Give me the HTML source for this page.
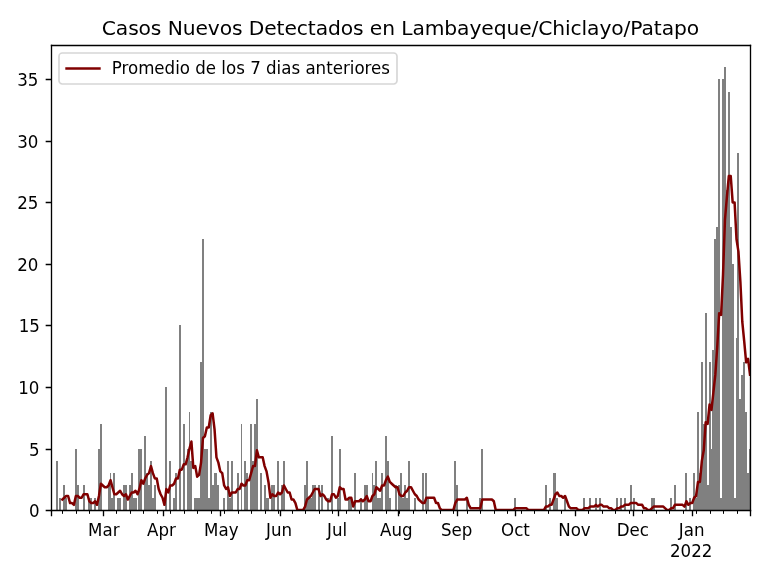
<!DOCTYPE html>
<html lang="es">
<head>
<meta charset="utf-8">
<title>Casos Nuevos Detectados en Lambayeque/Chiclayo/Patapo</title>
<style>
html,body{margin:0;padding:0;background:#ffffff;}
body{width:768px;height:576px;overflow:hidden;}
svg{display:block;}
svg text{white-space:pre;}
</style>
</head>
<body>
<svg width="768" height="576" viewBox="0 0 768 576">
<rect x="0" y="0" width="768" height="576" fill="#ffffff"/>
<defs><clipPath id="ax"><rect x="50.81" y="44.84" width="699.19" height="465.24"/></clipPath></defs>
<g fill="#808080" shape-rendering="crispEdges">
<rect x="51" y="498" width="1" height="12"/>
<rect x="56" y="461" width="2" height="49"/>
<rect x="59" y="498" width="2" height="12"/>
<rect x="63" y="485" width="2" height="25"/>
<rect x="65" y="498" width="2" height="12"/>
<rect x="75" y="449" width="2" height="61"/>
<rect x="77" y="485" width="2" height="25"/>
<rect x="83" y="485" width="2" height="25"/>
<rect x="88" y="498" width="4" height="12"/>
<rect x="94" y="498" width="2" height="12"/>
<rect x="98" y="449" width="2" height="61"/>
<rect x="100" y="424" width="2" height="86"/>
<rect x="108" y="485" width="2" height="25"/>
<rect x="110" y="473" width="1" height="37"/>
<rect x="111" y="498" width="2" height="12"/>
<rect x="113" y="473" width="2" height="37"/>
<rect x="117" y="498" width="4" height="12"/>
<rect x="123" y="485" width="4" height="25"/>
<rect x="129" y="485" width="2" height="25"/>
<rect x="131" y="473" width="2" height="37"/>
<rect x="133" y="498" width="4" height="12"/>
<rect x="138" y="449" width="4" height="61"/>
<rect x="144" y="436" width="2" height="74"/>
<rect x="146" y="473" width="2" height="37"/>
<rect x="148" y="485" width="2" height="25"/>
<rect x="150" y="461" width="2" height="49"/>
<rect x="152" y="498" width="2" height="12"/>
<rect x="154" y="485" width="2" height="25"/>
<rect x="165" y="387" width="2" height="123"/>
<rect x="169" y="461" width="2" height="49"/>
<rect x="173" y="498" width="2" height="12"/>
<rect x="175" y="473" width="2" height="37"/>
<rect x="179" y="325" width="2" height="185"/>
<rect x="183" y="424" width="2" height="86"/>
<rect x="187" y="449" width="2" height="61"/>
<rect x="189" y="412" width="1" height="98"/>
<rect x="190" y="461" width="2" height="49"/>
<rect x="194" y="498" width="6" height="12"/>
<rect x="200" y="362" width="2" height="148"/>
<rect x="202" y="239" width="2" height="271"/>
<rect x="204" y="449" width="4" height="61"/>
<rect x="208" y="498" width="2" height="12"/>
<rect x="210" y="412" width="2" height="98"/>
<rect x="212" y="485" width="2" height="25"/>
<rect x="214" y="473" width="3" height="37"/>
<rect x="217" y="485" width="2" height="25"/>
<rect x="223" y="498" width="2" height="12"/>
<rect x="227" y="461" width="2" height="49"/>
<rect x="229" y="498" width="2" height="12"/>
<rect x="231" y="461" width="2" height="49"/>
<rect x="237" y="473" width="2" height="37"/>
<rect x="241" y="424" width="1" height="86"/>
<rect x="244" y="461" width="2" height="49"/>
<rect x="246" y="473" width="2" height="37"/>
<rect x="250" y="424" width="2" height="86"/>
<rect x="252" y="461" width="2" height="49"/>
<rect x="254" y="424" width="2" height="86"/>
<rect x="256" y="399" width="2" height="111"/>
<rect x="260" y="473" width="2" height="37"/>
<rect x="264" y="485" width="2" height="25"/>
<rect x="266" y="498" width="3" height="12"/>
<rect x="271" y="485" width="4" height="25"/>
<rect x="277" y="461" width="2" height="49"/>
<rect x="281" y="485" width="2" height="25"/>
<rect x="283" y="461" width="2" height="49"/>
<rect x="304" y="485" width="2" height="25"/>
<rect x="306" y="461" width="2" height="49"/>
<rect x="308" y="498" width="4" height="12"/>
<rect x="312" y="485" width="4" height="25"/>
<rect x="318" y="485" width="2" height="25"/>
<rect x="321" y="485" width="2" height="25"/>
<rect x="327" y="498" width="2" height="12"/>
<rect x="331" y="436" width="2" height="74"/>
<rect x="337" y="498" width="2" height="12"/>
<rect x="339" y="449" width="2" height="61"/>
<rect x="348" y="498" width="4" height="12"/>
<rect x="354" y="473" width="2" height="37"/>
<rect x="360" y="498" width="2" height="12"/>
<rect x="364" y="485" width="4" height="25"/>
<rect x="372" y="473" width="1" height="37"/>
<rect x="373" y="485" width="2" height="25"/>
<rect x="375" y="461" width="2" height="49"/>
<rect x="377" y="498" width="4" height="12"/>
<rect x="381" y="473" width="2" height="37"/>
<rect x="385" y="436" width="2" height="74"/>
<rect x="387" y="461" width="2" height="49"/>
<rect x="389" y="498" width="2" height="12"/>
<rect x="395" y="485" width="2" height="25"/>
<rect x="398" y="485" width="2" height="25"/>
<rect x="400" y="473" width="2" height="37"/>
<rect x="402" y="498" width="2" height="12"/>
<rect x="404" y="485" width="2" height="25"/>
<rect x="406" y="498" width="2" height="12"/>
<rect x="408" y="461" width="2" height="49"/>
<rect x="414" y="498" width="2" height="12"/>
<rect x="422" y="473" width="2" height="37"/>
<rect x="425" y="473" width="2" height="37"/>
<rect x="427" y="498" width="2" height="12"/>
<rect x="454" y="461" width="2" height="49"/>
<rect x="456" y="485" width="2" height="25"/>
<rect x="466" y="498" width="2" height="12"/>
<rect x="479" y="498" width="2" height="12"/>
<rect x="481" y="449" width="2" height="61"/>
<rect x="514" y="498" width="2" height="12"/>
<rect x="545" y="485" width="2" height="25"/>
<rect x="549" y="498" width="2" height="12"/>
<rect x="553" y="473" width="3" height="37"/>
<rect x="556" y="498" width="2" height="12"/>
<rect x="564" y="498" width="2" height="12"/>
<rect x="583" y="498" width="2" height="12"/>
<rect x="589" y="498" width="2" height="12"/>
<rect x="595" y="498" width="2" height="12"/>
<rect x="599" y="498" width="2" height="12"/>
<rect x="616" y="498" width="2" height="12"/>
<rect x="620" y="498" width="2" height="12"/>
<rect x="624" y="498" width="2" height="12"/>
<rect x="630" y="485" width="2" height="25"/>
<rect x="633" y="498" width="2" height="12"/>
<rect x="651" y="498" width="4" height="12"/>
<rect x="670" y="498" width="2" height="12"/>
<rect x="674" y="485" width="2" height="25"/>
<rect x="685" y="473" width="2" height="37"/>
<rect x="689" y="498" width="2" height="12"/>
<rect x="693" y="473" width="2" height="37"/>
<rect x="695" y="498" width="2" height="12"/>
<rect x="697" y="412" width="2" height="98"/>
<rect x="699" y="473" width="2" height="37"/>
<rect x="701" y="362" width="2" height="148"/>
<rect x="703" y="424" width="2" height="86"/>
<rect x="705" y="313" width="2" height="197"/>
<rect x="707" y="485" width="2" height="25"/>
<rect x="709" y="362" width="2" height="148"/>
<rect x="711" y="449" width="1" height="61"/>
<rect x="712" y="350" width="2" height="160"/>
<rect x="714" y="239" width="2" height="271"/>
<rect x="716" y="227" width="2" height="283"/>
<rect x="718" y="79" width="2" height="431"/>
<rect x="720" y="498" width="2" height="12"/>
<rect x="722" y="79" width="2" height="431"/>
<rect x="724" y="67" width="2" height="443"/>
<rect x="726" y="190" width="2" height="320"/>
<rect x="728" y="92" width="2" height="418"/>
<rect x="730" y="227" width="2" height="283"/>
<rect x="732" y="264" width="2" height="246"/>
<rect x="734" y="498" width="2" height="12"/>
<rect x="736" y="338" width="1" height="172"/>
<rect x="737" y="153" width="2" height="357"/>
<rect x="739" y="399" width="2" height="111"/>
<rect x="741" y="375" width="2" height="135"/>
<rect x="743" y="362" width="2" height="148"/>
<rect x="745" y="412" width="2" height="98"/>
<rect x="747" y="473" width="2" height="37"/>
<rect x="749" y="449" width="1" height="61"/>
</g>
<g clip-path="url(#ax)"><polyline points="62.36,499.53 64.29,497.77 66.22,496.01 68.14,496.01 70.07,503.05 71.99,503.05 73.92,504.81 75.85,496.01 77.77,496.01 79.7,497.77 81.63,497.77 83.55,494.26 85.48,494.26 87.4,494.26 89.33,501.29 91.26,503.05 93.18,503.05 95.11,501.29 97.03,504.81 98.96,496.01 100.89,483.71 102.81,485.46 104.74,487.22 106.67,487.22 108.59,485.46 110.52,480.19 112.44,487.22 114.37,494.26 116.3,494.26 118.22,492.5 120.15,490.74 122.07,494.26 124,496.01 125.93,494.26 127.85,499.53 129.78,496.01 131.71,492.5 133.63,492.5 135.56,490.74 137.48,494.26 139.41,488.98 141.34,480.19 143.26,483.71 145.19,478.43 147.11,474.91 149.04,473.16 150.97,466.12 152.89,473.16 154.82,478.43 156.75,478.43 158.67,488.98 160.6,494.26 162.52,497.77 164.45,504.81 166.38,488.98 168.3,492.5 170.23,485.46 172.15,485.46 174.08,483.71 176.01,478.43 177.93,478.43 179.86,469.64 181.79,469.64 183.71,464.36 185.64,464.36 187.56,457.33 189.49,448.54 191.42,441.51 193.34,467.88 195.27,466.12 197.19,476.67 199.12,474.91 201.05,462.61 202.97,437.99 204.9,436.23 206.83,427.44 208.75,427.44 210.68,415.13 212.6,413.37 214.53,429.2 216.46,457.33 218.38,462.61 220.31,471.4 222.23,473.16 224.16,485.46 226.09,488.98 228.01,487.22 229.94,496.01 231.87,492.5 233.79,492.5 235.72,492.5 237.64,488.98 239.57,488.98 241.5,483.71 243.42,485.46 245.35,485.46 247.27,480.19 249.2,480.19 251.13,473.16 253.05,466.12 254.98,466.12 256.91,450.3 258.83,457.33 260.76,457.33 262.68,457.33 264.61,466.12 266.54,471.4 268.46,481.95 270.39,497.77 272.31,494.26 274.24,496.01 276.17,496.01 278.09,492.5 280.02,494.26 281.95,492.5 283.87,485.46 285.8,488.98 287.72,492.5 289.65,492.5 291.58,499.53 293.5,499.53 295.43,503.05 297.35,510.08 299.28,510.08 301.21,510.08 303.13,510.08 305.06,506.56 306.99,499.53 308.91,497.77 310.84,496.01 312.76,492.5 314.69,488.98 316.62,488.98 318.54,488.98 320.47,496.01 322.39,494.26 324.32,496.01 326.25,499.53 328.17,501.29 330.1,501.29 332.03,494.26 333.95,494.26 335.88,497.77 337.8,496.01 339.73,487.22 341.66,488.98 343.58,488.98 345.51,499.53 347.43,499.53 349.36,497.77 351.29,497.77 353.21,506.56 355.14,501.29 357.07,501.29 358.99,501.29 360.92,499.53 362.84,501.29 364.77,499.53 366.7,496.01 368.62,501.29 370.55,501.29 372.47,496.01 374.4,494.26 376.33,487.22 378.25,488.98 380.18,490.74 382.11,485.46 384.03,485.46 385.96,480.19 387.88,476.67 389.81,481.95 391.74,483.71 393.66,485.46 395.59,487.22 397.51,487.22 399.44,494.26 401.37,496.01 403.29,496.01 405.22,492.5 407.15,490.74 409.07,487.22 411,487.22 412.92,490.74 414.85,494.26 416.78,496.01 418.7,499.53 420.63,501.29 422.55,503.05 424.48,503.05 426.41,497.77 428.33,497.77 430.26,497.77 432.19,497.77 434.11,497.77 436.04,503.05 437.96,503.05 439.89,508.32 441.82,510.08 443.74,510.08 445.67,510.08 447.59,510.08 449.52,510.08 451.45,510.08 453.37,510.08 455.3,503.05 457.23,499.53 459.15,499.53 461.08,499.53 463,499.53 464.93,499.53 466.86,497.77 468.78,504.81 470.71,508.32 472.63,508.32 474.56,508.32 476.49,508.32 478.41,508.32 480.34,508.32 482.27,499.53 484.19,499.53 486.12,499.53 488.04,499.53 489.97,499.53 491.9,499.53 493.82,501.29 495.75,510.08 497.67,510.08 499.6,510.08 501.53,510.08 503.45,510.08 505.38,510.08 507.31,510.08 509.23,510.08 511.16,510.08 513.08,510.08 515.01,508.32 516.94,508.32 518.86,508.32 520.79,508.32 522.71,508.32 524.64,508.32 526.57,508.32 528.49,510.08 530.42,510.08 532.34,510.08 534.27,510.08 536.2,510.08 538.12,510.08 540.05,510.08 541.98,510.08 543.9,510.08 545.83,506.56 547.75,506.56 549.68,504.81 551.61,504.81 553.53,499.53 555.46,494.26 557.38,492.5 559.31,496.01 561.24,496.01 563.16,497.77 565.09,496.01 567.02,501.29 568.94,506.56 570.87,508.32 572.79,508.32 574.72,508.32 576.65,508.32 578.57,510.08 580.5,510.08 582.42,510.08 584.35,508.32 586.28,508.32 588.2,508.32 590.13,506.56 592.06,506.56 593.98,506.56 595.91,504.81 597.83,506.56 599.76,504.81 601.69,504.81 603.61,506.56 605.54,506.56 607.46,506.56 609.39,508.32 611.32,508.32 613.24,510.08 615.17,510.08 617.1,508.32 619.02,508.32 620.95,506.56 622.87,506.56 624.8,504.81 626.73,504.81 628.65,504.81 630.58,503.05 632.5,503.05 634.43,503.05 636.36,503.05 638.28,504.81 640.21,504.81 642.14,504.81 644.06,508.32 645.99,508.32 647.91,510.08 649.84,510.08 651.77,508.32 653.69,506.56 655.62,506.56 657.54,506.56 659.47,506.56 661.4,506.56 663.32,506.56 665.25,508.32 667.18,510.08 669.1,510.08 671.03,508.32 672.95,508.32 674.88,504.81 676.81,504.81 678.73,504.81 680.66,504.81 682.58,504.81 684.51,506.56 686.44,501.29 688.36,504.81 690.29,503.05 692.22,503.05 694.14,497.77 696.07,496.01 697.99,481.95 699.92,481.95 701.85,460.85 703.77,450.3 705.7,422.17 707.62,423.92 709.55,404.58 711.48,409.86 713.4,392.28 715.33,374.69 717.26,346.56 719.18,313.15 721.11,314.91 723.03,274.47 724.96,219.96 726.89,197.11 728.81,176.01 730.74,176.01 732.66,202.38 734.59,202.38 736.52,239.31 738.44,251.61 740.37,281.5 742.3,321.94 744.22,341.29 746.15,362.38 748.07,358.87 750,374.69" fill="none" stroke="#800000" stroke-width="2.5" stroke-linejoin="round" stroke-linecap="square"/></g>
<g stroke="#000000" stroke-width="1.33" stroke-linecap="square" fill="none">
<line x1="51.5" y1="45.5" x2="51.5" y2="510.5"/>
<line x1="750.5" y1="45.5" x2="750.5" y2="510.5"/>
<line x1="51.5" y1="510.5" x2="750.5" y2="510.5"/>
<line x1="51.5" y1="45.5" x2="750.5" y2="45.5"/>
</g>
<g stroke="#000000" fill="none" stroke-linecap="butt">
<path d="M51.5 510.5V516.33M103.5 510.5V516.33M163.5 510.5V516.33M220.5 510.5V516.33M280.5 510.5V516.33M338.5 510.5V516.33M398.5 510.5V516.33M457.5 510.5V516.33M515.5 510.5V516.33M575.5 510.5V516.33M633.5 510.5V516.33M692.5 510.5V516.33M750.5 510.5V516.33M51.5 510.5H45.67M51.5 449.5H45.67M51.5 387.5H45.67M51.5 325.5H45.67M51.5 264.5H45.67M51.5 202.5H45.67M51.5 141.5H45.67M51.5 79.5H45.67" stroke-width="1.33"/>
<path d="M62.5 510.5V513.83M76.5 510.5V513.83M89.5 510.5V513.83M116.5 510.5V513.83M130.5 510.5V513.83M143.5 510.5V513.83M157.5 510.5V513.83M170.5 510.5V513.83M184.5 510.5V513.83M197.5 510.5V513.83M211.5 510.5V513.83M224.5 510.5V513.83M238.5 510.5V513.83M251.5 510.5V513.83M265.5 510.5V513.83M278.5 510.5V513.83M292.5 510.5V513.83M305.5 510.5V513.83M319.5 510.5V513.83M332.5 510.5V513.83M346.5 510.5V513.83M359.5 510.5V513.83M372.5 510.5V513.83M386.5 510.5V513.83M399.5 510.5V513.83M413.5 510.5V513.83M426.5 510.5V513.83M440.5 510.5V513.83M453.5 510.5V513.83M467.5 510.5V513.83M480.5 510.5V513.83M494.5 510.5V513.83M507.5 510.5V513.83M521.5 510.5V513.83M534.5 510.5V513.83M548.5 510.5V513.83M561.5 510.5V513.83M588.5 510.5V513.83M602.5 510.5V513.83M615.5 510.5V513.83M629.5 510.5V513.83M642.5 510.5V513.83M656.5 510.5V513.83M669.5 510.5V513.83M683.5 510.5V513.83M696.5 510.5V513.83M710.5 510.5V513.83M723.5 510.5V513.83M737.5 510.5V513.83" stroke-width="1"/>
</g>
<g style="font-family:'DejaVu Sans', 'Liberation Sans', sans-serif" fill="#000000">
<g font-size="16.67" text-anchor="middle">
<text transform="translate(103.81 535.66) scale(1 1.08)">Mar</text>
<text transform="translate(161.52 535.66) scale(1 1.08)">Apr</text>
<text transform="translate(221.31 535.66) scale(1 1.08)">May</text>
<text transform="translate(279.02 535.66) scale(1 1.08)">Jun</text>
<text transform="translate(337.05 535.66) scale(1 1.08)">Jul</text>
<text transform="translate(396.26 535.66) scale(1 1.08)">Aug</text>
<text transform="translate(456.73 535.66) scale(1 1.08)">Sep</text>
<text transform="translate(515.51 535.66) scale(1 1.08)">Oct</text>
<text transform="translate(574.47 535.66) scale(1 1.08)">Nov</text>
<text transform="translate(632.75 535.66) scale(1 1.08)">Dec</text>
</g>
<g font-size="16.67">
<text transform="translate(678.87 535.66) scale(1 1.08)">Jan</text>
<text transform="translate(670.01 556.57) scale(1 1.08)">2022</text>
</g>
<g font-size="16.67" text-anchor="end">
<text transform="translate(39.64 516.66) scale(1 1.08)">0</text>
<text transform="translate(39.64 455.62) scale(1 1.08)">5</text>
<text transform="translate(39.39 393.58) scale(1 1.08)">10</text>
<text transform="translate(39.89 331.54) scale(1 1.08)">15</text>
<text transform="translate(38.39 270.5) scale(1 1.08)">20</text>
<text transform="translate(38.39 208.71) scale(1 1.08)">25</text>
<text transform="translate(38.39 147.67) scale(1 1.08)">30</text>
<text transform="translate(38.39 85.63) scale(1 1.08)">35</text>
</g>
<text x="400.4" y="34.84" font-size="20.25" letter-spacing="-0.100" text-anchor="middle">Casos Nuevos Detectados en Lambayeque/Chiclayo/Patapo</text>
</g>
<rect x="59" y="53" width="338" height="31" rx="3.33" ry="3.33" fill="#ffffff" fill-opacity="0.8" stroke="#cccccc" stroke-opacity="0.8" stroke-width="1.67"/>
<line x1="66.55" y1="68.5" x2="99.45" y2="68.5" stroke="#800000" stroke-width="2.5" stroke-linecap="square"/>
<text transform="translate(111.72 73.5) scale(1 1.08)" font-size="16.67" style="font-family:'DejaVu Sans', 'Liberation Sans', sans-serif" fill="#000000">Promedio de los 7 dias anteriores</text>
</svg>
</body>
</html>
